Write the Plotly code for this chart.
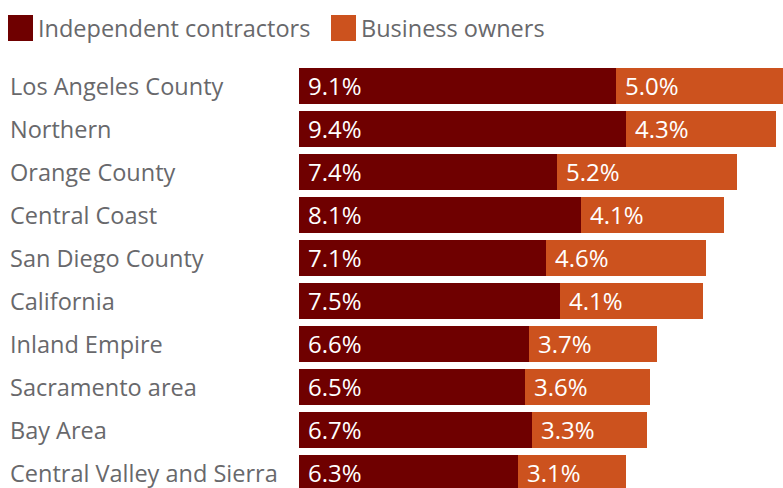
import plotly.graph_objects as go

# Share of workers by region
regions = [
    "Los Angeles County", "Northern", "Orange County", "Central Coast",
    "San Diego County", "California", "Inland Empire", "Sacramento area",
    "Bay Area", "Central Valley and Sierra",
]
independent_contractors = [9.1, 9.4, 7.4, 8.1, 7.1, 7.5, 6.6, 6.5, 6.7, 6.3]
business_owners = [5.0, 4.3, 5.2, 4.1, 4.6, 4.1, 3.7, 3.6, 3.3, 3.1]

series_names = ["Independent contractors", "Business owners"]
series_colors = ["#6F0000", "#CC521E"]

W, H = 783, 488
M_L, M_T = 299, 64
PX_PER_UNIT_X = 34.8   # pixels per percentage point
ROW = 43               # pixels per category row

FONT = "Open Sans"
LABEL_COLOR = "#68686b"
FS = 23.5
FS_VAL = 24

plot_w = W - M_L
plot_h = H - M_T
x_max = plot_w / PX_PER_UNIT_X
y_span = plot_h / ROW

fig = go.Figure()
fig.add_trace(go.Bar(
    y=regions, x=independent_contractors, orientation="h",
    name=series_names[0], marker=dict(color=series_colors[0], line_width=0),
    showlegend=False,
))
fig.add_trace(go.Bar(
    y=regions, x=business_owners, orientation="h",
    name=series_names[1], marker=dict(color=series_colors[1], line_width=0),
    showlegend=False,
))

annotations = []
# Value labels inside each segment, left-aligned with a small inset
for r, a, b in zip(regions, independent_contractors, business_owners):
    annotations.append(dict(
        x=0, y=r, xref="x", yref="y", text=f"{a:.1f}%", showarrow=False,
        xanchor="left", yanchor="middle", xshift=7,
        font=dict(family=FONT, size=FS_VAL, color="white"),
    ))
    annotations.append(dict(
        x=a, y=r, xref="x", yref="y", text=f"{b:.1f}%", showarrow=False,
        xanchor="left", yanchor="middle", xshift=7,
        font=dict(family=FONT, size=FS_VAL, color="white"),
    ))
    # Category label, left-aligned at the page edge
    annotations.append(dict(
        x=0, y=r, xref="paper", yref="y", text=r, showarrow=False,
        xanchor="left", yanchor="middle", xshift=-(M_L - 8),
        font=dict(family=FONT, size=FS, color=LABEL_COLOR),
    ))

# Legend drawn as swatches + text along the top
shapes = []
legend_x = [8, 331]
for name, color, lx in zip(series_names, series_colors, legend_x):
    shapes.append(dict(
        type="rect", xref="paper", yref="paper",
        x0=(lx - M_L) / plot_w, x1=(lx + 25 - M_L) / plot_w,
        y0=(H - 41) / plot_h, y1=(H - 15) / plot_h,
        fillcolor=color, line_width=0, layer="above",
    ))
    annotations.append(dict(
        x=(lx + 28 - M_L) / plot_w, y=(H - 28) / plot_h,
        xref="paper", yref="paper", text=name, showarrow=False,
        xanchor="left", yanchor="middle",
        font=dict(family=FONT, size=FS, color=LABEL_COLOR),
    ))

fig.update_layout(
    width=W, height=H,
    margin=dict(l=M_L, r=0, t=M_T, b=0, pad=0),
    barmode="stack", bargap=7 / ROW,
    plot_bgcolor="white", paper_bgcolor="white",
    xaxis=dict(range=[0, x_max], visible=False, fixedrange=True),
    yaxis=dict(
        categoryorder="array", categoryarray=regions,
        range=[y_span - 0.5, -0.5], visible=False, fixedrange=True,
    ),
    annotations=annotations, shapes=shapes,
    font=dict(family=FONT),
)

fig.write_html("out.html", config={"displayModeBar": False})
